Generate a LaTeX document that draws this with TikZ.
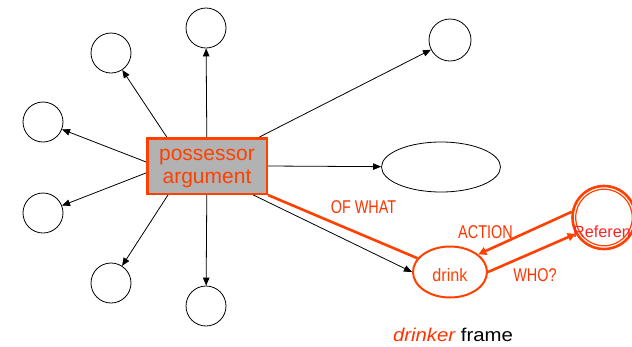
\documentclass[tikz,border=0pt]{standalone}
\usepackage{fontspec}
\setmainfont{Liberation Sans}
\newfontfamily\condensed[FakeStretch=0.78]{Liberation Sans}
\newfontfamily\slimmed[FakeStretch=0.9]{Liberation Sans}
\newfontfamily\widened[FakeStretch=1.1]{Liberation Sans}
\usetikzlibrary{arrows.meta,shapes.geometric,calc}
\definecolor{frameRed}{RGB}{255,64,0}
\definecolor{labelRed}{RGB}{255,51,0}
\definecolor{refRed}{RGB}{255,35,35}
\definecolor{slotGray}{RGB}{178,178,178}

\begin{document}
\begin{tikzpicture}[x=1pt,y=-1pt,
  slot/.style={circle,draw=black,line width=0.8pt,minimum size=40pt,inner sep=0pt},
  link/.style={draw=black,line width=0.8pt,-{Triangle[length=8pt,width=6.5pt]}},
  rel/.style={draw=frameRed,line width=2.6pt},
  relarrow/.style={rel,-{Triangle[length=8pt,width=8pt]}},
  rolelabel/.style={text=labelRed,font=\condensed\fontsize{18.5}{21}\selectfont,anchor=base,inner sep=0pt},
  possbox/.style={rectangle,draw=frameRed,fill=slotGray,line width=2.5pt,
    minimum width=119.5pt,minimum height=55.5pt,inner sep=0pt,align=center},
  possText/.style={text=frameRed,font=\fontsize{21}{23}\selectfont,align=center,inner sep=0pt},
]
\useasboundingbox (0,0) rectangle (632,346);

% central possessor argument
\node[possbox] (poss) at (207,166) {};
\node[possText] (posslabel) at (207,169) {possessor\\argument};

% surrounding slots
\node[slot] (n)  at (206,28)  {};
\node[slot] (nw) at (111,53)  {};
\node[slot] (wn) at (43,122)  {};
\node[slot] (ws) at (43,213)  {};
\node[slot] (sw) at (111,283) {};
\node[slot] (s)  at (206,306) {};
\node[slot,minimum size=42pt] (ne) at (450,40) {};
\node[ellipse,draw=black,line width=0.8pt,minimum width=119pt,minimum height=50pt,inner sep=0pt] (oval) at (441,167) {};

% drinker frame
\node[ellipse,draw=frameRed,line width=2pt,minimum width=74pt,minimum height=51pt,
  inner sep=0pt,text=frameRed,font=\slimmed\fontsize{18}{20}\selectfont,
  text height=18.5pt,text depth=0pt] (drink) at (450,272) {drink};
\node[circle,draw=frameRed,line width=2.6pt,minimum size=63pt,inner sep=0pt] (ref) at (604,217.5) {};
\draw[frameRed,line width=1.2pt] (ref.center) circle[radius=28.3];
\node[text=refRed,font=\fontsize{16.2}{18}\selectfont,anchor=base,inner sep=0pt] (reftext) at (602,237) {Referen};

% black links from the possessor argument
\draw[link] (poss) -- (n);
\draw[link] ($(poss.north west)!0.17!(poss.north east)$) -- (nw);
\draw[link] ($(poss.north west)!0.43!(poss.south west)$) -- (wn);
\draw[link] ($(poss.north west)!0.62!(poss.south west)$) -- (ws);
\draw[link] ($(poss.south west)!0.18!(poss.south east)$) -- (sw);
\draw[link] (poss) -- (s);
\draw[link] ($(poss.north west)!0.93!(poss.north east)$) -- (ne);
\draw[link] (poss.east) -- (oval);
\draw[link] ($(poss.south west)!0.88!(poss.south east)$) -- (drink.west);

% red relations
\draw[rel] (poss.south east) -- (drink);
\draw[relarrow] (ref.170) -- (drink.32);
\draw[relarrow] (drink.east) -- (ref.210);

\node[rolelabel] (ofwhat) at (363.5,213.3) {OF WHAT};
\node[rolelabel] (action) at (485.5,238) {ACTION};
\node[rolelabel] (who) at (535,281) {WHO?};

\node[anchor=base,inner sep=0pt,font=\widened\fontsize{18.5}{20}\selectfont] (caption) at (453,341)
  {\textcolor{labelRed}{\itshape drinker} frame};
\end{tikzpicture}
\end{document}
